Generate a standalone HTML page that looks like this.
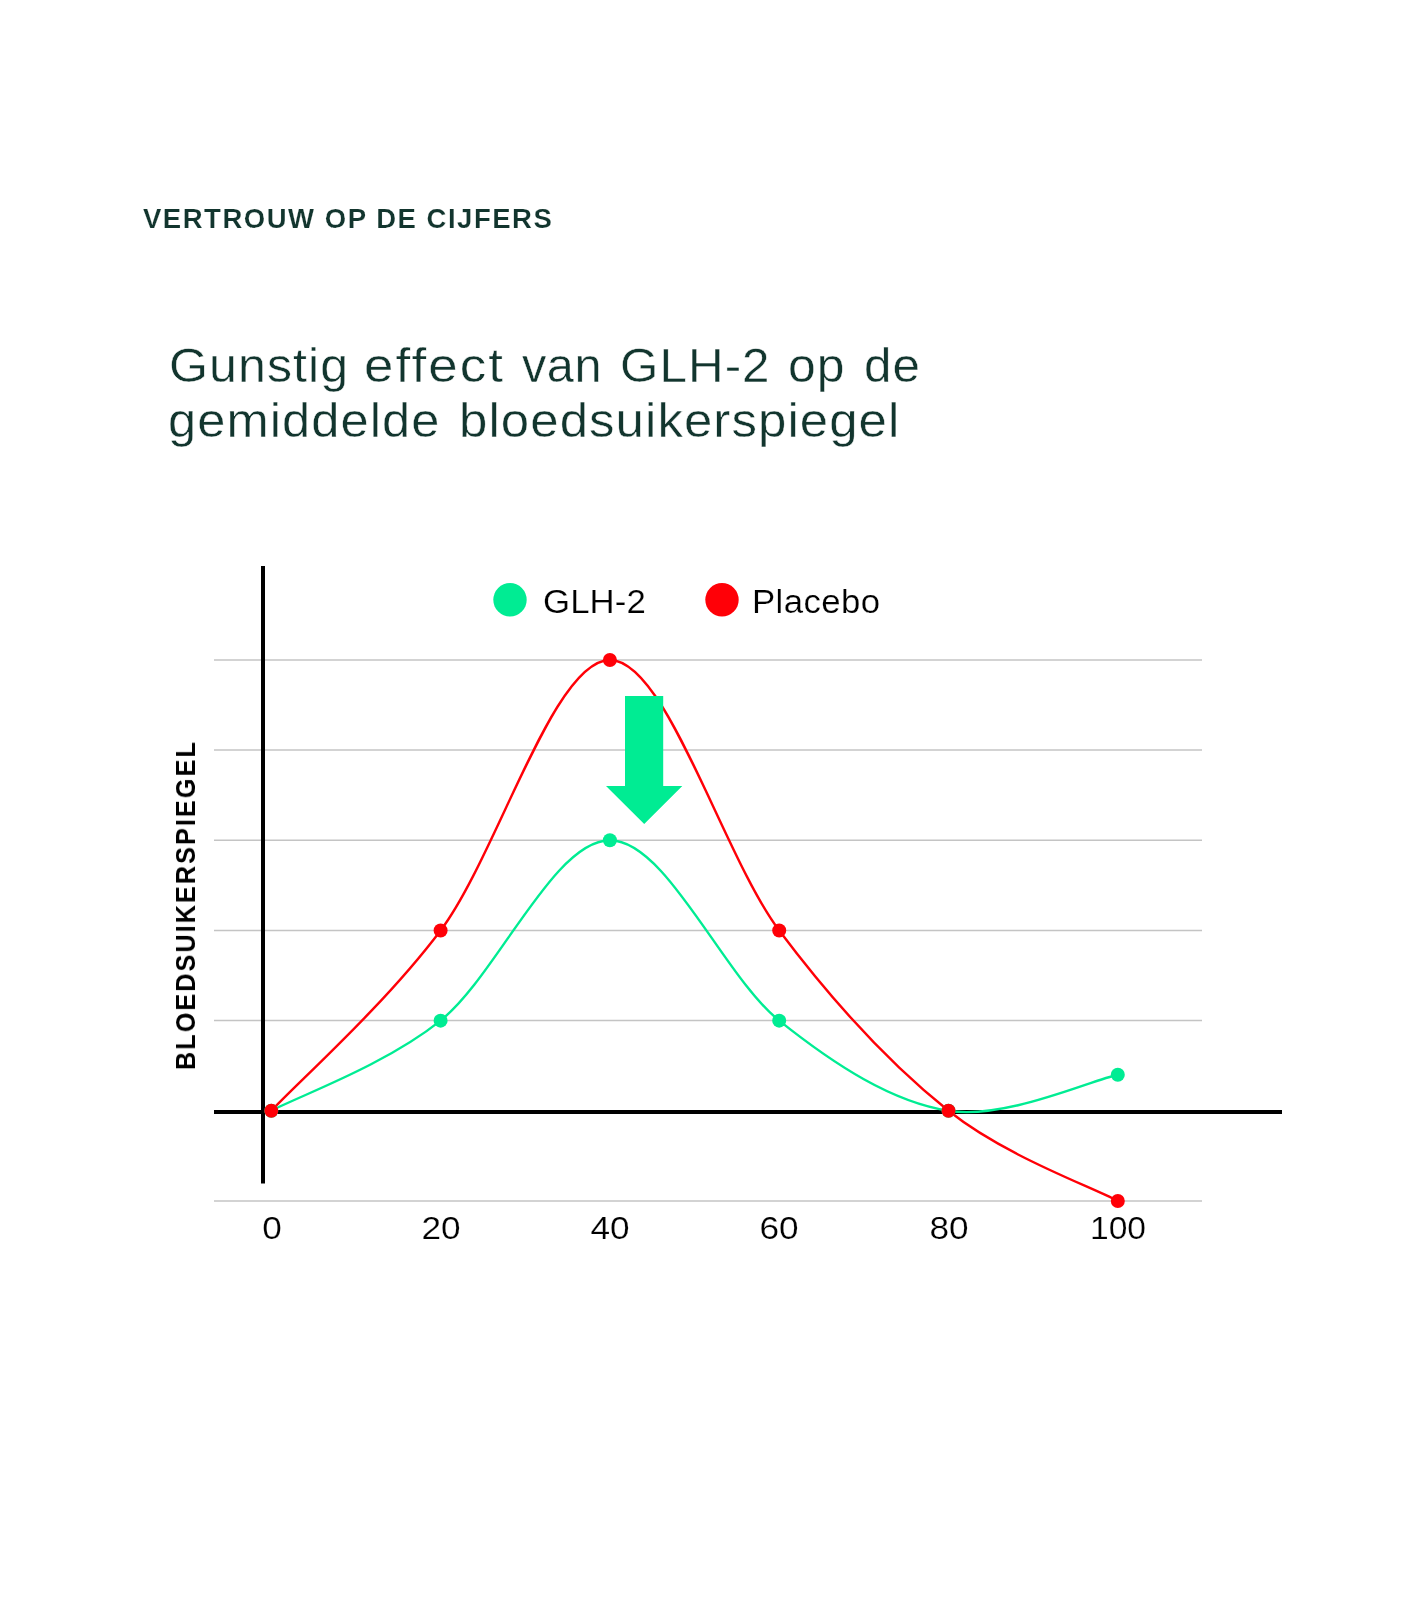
<!DOCTYPE html>
<html><head><meta charset="utf-8">
<style>
html,body{margin:0;padding:0;background:#fff;}
body{width:1424px;height:1620px;position:relative;overflow:hidden;font-family:"Liberation Sans",sans-serif;}
.t{position:absolute;white-space:nowrap;line-height:1;will-change:transform;}
#kick{left:143px;top:205px;font-size:27.5px;font-weight:bold;color:#12352e;letter-spacing:1.52px;-webkit-text-stroke:0.15px #fff;}
.ttl{font-size:47.2px;color:#12352e;-webkit-text-stroke:0.4px #fff;transform-origin:0 0;}
.leg{font-size:32.5px;color:#000;-webkit-text-stroke:0.2px #fff;transform:scaleX(1.07);transform-origin:0 0;}
.tick{font-size:32px;color:#000;-webkit-text-stroke:0.2px #fff;width:120px;text-align:center;transform:scaleX(1.1);transform-origin:60px 0;}
#ylab{font-size:28px;font-weight:bold;color:#000;letter-spacing:2.3px;transform-origin:0 0;transform:rotate(-90deg) scaleX(0.9);}
svg{position:absolute;left:0;top:0;}
</style></head><body>
<div class="t" id="kick">VERTROUW OP DE CIJFERS</div>
<div class="t ttl" style="left:169.38px;top:341.5px;letter-spacing:1.00px;transform:scaleX(1.0622)">Gunstig</div>
<div class="t ttl" style="left:363.56px;top:341.5px;letter-spacing:1.92px;transform:scaleX(1.1200)">effect</div>
<div class="t ttl" style="left:521.70px;top:341.5px;letter-spacing:0.54px;transform:scaleX(1.0300)">van</div>
<div class="t ttl" style="left:619.91px;top:341.5px;letter-spacing:1.00px;transform:scaleX(1.0460)">GLH-2</div>
<div class="t ttl" style="left:788.19px;top:341.5px;letter-spacing:1.00px;transform:scaleX(1.0560)">op</div>
<div class="t ttl" style="left:863.91px;top:341.5px;letter-spacing:1.00px;transform:scaleX(1.0460)">de</div>
<div class="t ttl" style="left:168.35px;top:397px;letter-spacing:1.00px;transform:scaleX(1.0731)">gemiddelde</div>
<div class="t ttl" style="left:458.66px;top:397px;letter-spacing:1.00px;transform:scaleX(1.0796)">bloedsuikerspiegel</div>
<svg width="1424" height="1620" viewBox="0 0 1424 1620">
<g stroke="#c4c4c4" stroke-width="1.5"><line x1="214" x2="1202" y1="659.9" y2="659.9"/><line x1="214" x2="1202" y1="750.08" y2="750.08"/><line x1="214" x2="1202" y1="840.26" y2="840.26"/><line x1="214" x2="1202" y1="930.44" y2="930.44"/><line x1="214" x2="1202" y1="1020.62" y2="1020.62"/><line x1="214" x2="1202" y1="1200.98" y2="1200.98"/></g>
<rect x="214" y="1110" width="1068" height="4" fill="#000"/>
<rect x="261" y="566" width="4" height="617.5" fill="#000"/>
<path fill="none" stroke="#00ec93" stroke-width="2.4" d="M271.30 1110.80 C299.52 1095.77 384.17 1065.71 440.60 1020.63 C497.03 975.54 553.47 840.29 609.90 840.29 C666.33 840.29 722.77 975.54 779.20 1020.63 C835.63 1065.71 892.07 1101.78 948.50 1110.80 C1004.93 1119.82 1089.58 1080.74 1117.80 1074.73"/>
<path fill="none" stroke="#ff0007" stroke-width="2.4" d="M271.30 1110.80 C299.52 1080.74 384.17 1005.60 440.60 930.46 C497.03 855.32 553.47 659.95 609.90 659.95 C666.33 659.95 722.77 855.32 779.20 930.46 C835.63 1005.60 892.07 1065.71 948.50 1110.80 C1004.93 1155.88 1089.58 1185.94 1117.80 1200.97"/>
<g fill="#00ec93"><circle cx="271.30" cy="1110.80" r="7.0"/><circle cx="440.60" cy="1020.63" r="7.0"/><circle cx="609.90" cy="840.29" r="7.0"/><circle cx="779.20" cy="1020.63" r="7.0"/><circle cx="948.50" cy="1110.80" r="7.0"/><circle cx="1117.80" cy="1074.73" r="7.0"/></g>
<g fill="#ff0007"><circle cx="271.30" cy="1110.80" r="7.0"/><circle cx="440.60" cy="930.46" r="7.0"/><circle cx="609.90" cy="659.95" r="7.0"/><circle cx="779.20" cy="930.46" r="7.0"/><circle cx="948.50" cy="1110.80" r="7.0"/><circle cx="1117.80" cy="1200.97" r="7.0"/></g>
<polygon fill="#00ec93" points="625,696 663.2,696 663.2,786 682.3,786 644.2,824 606,786 625,786"/>
<circle cx="510" cy="599.8" r="16.7" fill="#00ec93"/>
<circle cx="722" cy="599.8" r="16.7" fill="#ff0007"/>
</svg>
<div class="t leg" style="left:542.56px;top:585.5px;letter-spacing:0.08px">GLH-2</div>
<div class="t leg" style="left:751.59px;top:585.5px;letter-spacing:0.37px">Placebo</div>
<div class="t tick" style="left:212.20px;top:1212px">0</div>
<div class="t tick" style="left:380.60px;top:1212px">20</div>
<div class="t tick" style="left:549.90px;top:1212px">40</div>
<div class="t tick" style="left:719.20px;top:1212px">60</div>
<div class="t tick" style="left:888.50px;top:1212px">80</div>
<div class="t tick" style="left:1057.80px;top:1212px;transform:scaleX(1.05)">100</div>
<div class="t" id="ylab" style="left:172px;top:1069.8px">BLOEDSUIKERSPIEGEL</div>
</body></html>
